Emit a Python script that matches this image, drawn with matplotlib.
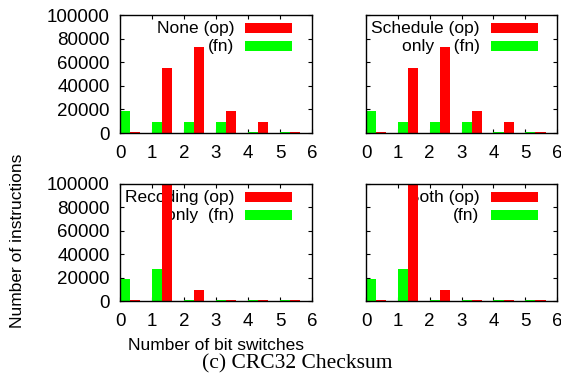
import numpy as np
import matplotlib
matplotlib.use("Agg")
import matplotlib.pyplot as plt
from matplotlib.patches import Rectangle

plt.rcParams['font.family'] = ['Liberation Sans', 'DejaVu Sans']

# bit switches 0..5
switches = [0, 1, 2, 3, 4, 5]

# (op) red, (fn) green
none_op = [700, 54700, 72800, 18400, 9100, 700]
none_fn = [18400, 9100, 9100, 9100, 700, 700]
sched_op = [700, 54700, 72800, 18400, 9100, 700]
sched_fn = [18400, 9100, 9100, 9100, 700, 700]
recod_op = [700, 125000, 9400, 700, 700, 700]
recod_fn = [18800, 27600, 700, 700, 700, 700]
both_op = [700, 125000, 9400, 700, 700, 700]
both_fn = [18800, 27600, 700, 700, 700, 700]

titles = [("None (op)", "(fn)"),
          ("Schedule (op)", "only    (fn)"),
          ("Recoding (op)", "only  (fn)"),
          ("Both (op)", "(fn)")]
series = [(none_op, none_fn), (sched_op, sched_fn),
          (recod_op, recod_fn), (both_op, both_fn)]

fig = plt.figure(figsize=(5.61, 3.78), dpi=100)
W, H = 561, 378
boxes = [(120, 15, 192, 118), (366, 15, 191, 118),
         (120, 184, 192, 117), (366, 184, 191, 117)]

red = '#ff0000'
green = '#00ff00'
bw = 0.32
x = np.array(switches)

for k, ((l, t, w, h), (op, fn), (t1, t2)) in enumerate(zip(boxes, series, titles)):
    ax = fig.add_axes([l / W, 1 - (t + h) / H, w / W, h / H])
    # legend drawn under the bars, like gnuplot
    ax.text(0.594, 0.885, t1, transform=ax.transAxes, ha='right', va='center',
            fontsize=12.5, zorder=1)
    ax.text(0.594, 0.73, t2, transform=ax.transAxes, ha='right', va='center',
            fontsize=12.5, zorder=1)
    ax.add_patch(Rectangle((0.653, 0.848), 0.245, 0.085, transform=ax.transAxes,
                           color=red, zorder=1, lw=0))
    ax.add_patch(Rectangle((0.653, 0.695), 0.245, 0.085, transform=ax.transAxes,
                           color=green, zorder=1, lw=0))
    ax.bar(x, fn, width=bw, align='edge', color=green, zorder=2, lw=0)
    ax.bar(x + bw, op, width=bw, align='edge', color=red, zorder=2, lw=0)
    ax.set_xlim(0, 6)
    ax.set_ylim(0, 100000)
    ax.set_xticks(range(7))
    ax.set_yticks(range(0, 100001, 20000))
    ax.tick_params(direction='in', length=3, width=0.8, labelsize=13.5,
                   top=True, right=True)
    ax.tick_params(axis='x', pad=8.5)
    ax.tick_params(axis='y', pad=7.5)
    if k % 2 == 1:
        ax.set_yticklabels([])
    for s in ax.spines.values():
        s.set_linewidth(1)

fig.text(18 / W, 1 - 241 / H, "Number of instructions", rotation=90,
         ha='center', va='center', fontsize=12.5)
fig.text(216 / W, 1 - 345 / H, "Number of bit switches", ha='center',
         va='center', fontsize=12.5)
fig.text(297 / W, 1 - 364 / H, "(c) CRC32 Checksum", ha='center', va='center',
         fontsize=15.5, family=['Liberation Serif', 'DejaVu Serif'])

fig.savefig("out.png", dpi=100)
